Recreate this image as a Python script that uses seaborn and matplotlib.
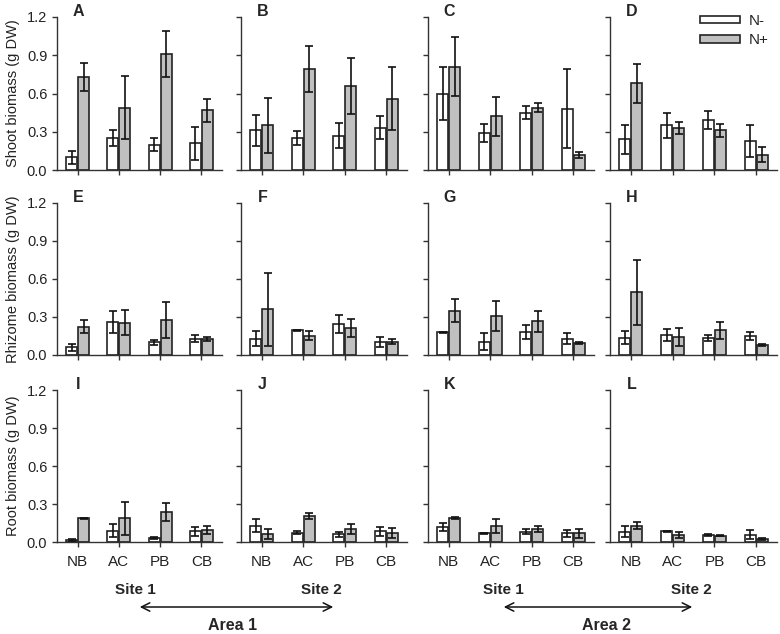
import numpy as np
import pandas as pd
import matplotlib
matplotlib.use('Agg')
from matplotlib import pyplot as plt
import seaborn as sns

species = ['NB', 'AC', 'PB', 'CB']
treatments = ['N-', 'N+']
letters = ['A', 'B', 'C', 'D', 'E', 'F', 'G', 'H', 'I', 'J', 'K', 'L']
ylabels = ['Shoot biomass (g DW)', 'Rhizome biomass (g DW)', 'Root biomass (g DW)']
yticks = [0.0, 0.3, 0.6, 0.9, 1.2]

# one inner list per panel (columns: Area1 Site1, Area1 Site2, Area2 Site1, Area2 Site2)
shoot_minus = [[0.10, 0.25, 0.20, 0.21], [0.31, 0.25, 0.27, 0.33],
               [0.60, 0.29, 0.45, 0.48], [0.24, 0.35, 0.39, 0.23]]
shoot_minus_se = [[0.05, 0.06, 0.05, 0.13], [0.12, 0.055, 0.10, 0.09],
                  [0.21, 0.07, 0.05, 0.31], [0.115, 0.10, 0.07, 0.125]]
shoot_plus = [[0.73, 0.49, 0.91, 0.47], [0.35, 0.79, 0.66, 0.56],
              [0.81, 0.42, 0.49, 0.12], [0.68, 0.33, 0.31, 0.12]]
shoot_plus_se = [[0.11, 0.25, 0.18, 0.09], [0.215, 0.18, 0.22, 0.25],
                 [0.23, 0.15, 0.035, 0.025], [0.155, 0.05, 0.05, 0.06]]

rhizome_minus = [[0.06, 0.26, 0.10, 0.13], [0.13, 0.195, 0.245, 0.105],
                 [0.18, 0.105, 0.18, 0.127], [0.137, 0.158, 0.132, 0.15]]
rhizome_minus_se = [[0.03, 0.09, 0.022, 0.03], [0.057, 0.005, 0.074, 0.04],
                    [0.005, 0.065, 0.055, 0.043], [0.05, 0.05, 0.022, 0.033]]
rhizome_plus = [[0.224, 0.256, 0.277, 0.127], [0.36, 0.153, 0.214, 0.105],
                [0.35, 0.31, 0.266, 0.095], [0.496, 0.14, 0.195, 0.082]]
rhizome_plus_se = [[0.05, 0.10, 0.145, 0.015], [0.29, 0.033, 0.07, 0.02],
                   [0.09, 0.12, 0.085, 0.01], [0.257, 0.07, 0.066, 0.008]]

root_minus = [[0.016, 0.09, 0.03, 0.084], [0.13, 0.074, 0.06, 0.084],
              [0.116, 0.068, 0.082, 0.068], [0.082, 0.084, 0.055, 0.058]]
root_minus_se = [[0.005, 0.05, 0.01, 0.035], [0.05, 0.01, 0.022, 0.033],
                 [0.033, 0.003, 0.02, 0.03], [0.042, 0.003, 0.005, 0.037]]
root_plus = [[0.187, 0.187, 0.237, 0.095], [0.063, 0.208, 0.105, 0.068],
             [0.19, 0.124, 0.105, 0.068], [0.13, 0.055, 0.05, 0.026]]
root_plus_se = [[0.003, 0.13, 0.07, 0.03], [0.04, 0.024, 0.04, 0.04],
                [0.008, 0.055, 0.024, 0.033], [0.024, 0.022, 0.005, 0.008]]

rows = [(shoot_minus, shoot_minus_se, shoot_plus, shoot_plus_se),
        (rhizome_minus, rhizome_minus_se, rhizome_plus, rhizome_plus_se),
        (root_minus, root_minus_se, root_plus, root_plus_se)]

sns.set_style('ticks')
plt.rcParams['font.family'] = ['Liberation Sans', 'DejaVu Sans']
plt.rcParams['axes.edgecolor'] = '#333333'
plt.rcParams['axes.linewidth'] = 1.0

W, H = 780, 634
fig = plt.figure(figsize=(W / 100, H / 100), dpi=100)

col_left = [57, 241, 428, 610]
col_width = [165, 166, 166, 167]
row_top = [17, 203, 390]
row_height = [153, 152, 152]

palette = {'N-': 'white', 'N+': '#c0c0c0'}

for r in range(3):
    m_minus, s_minus, m_plus, s_plus = rows[r]
    for c in range(4):
        ax = fig.add_axes([col_left[c] / W, 1 - (row_top[r] + row_height[r]) / H,
                           col_width[c] / W, row_height[r] / H])
        df = pd.DataFrame({
            'species': species * 2,
            'N': ['N-'] * 4 + ['N+'] * 4,
            'mean': m_minus[c] + m_plus[c],
            'se': s_minus[c] + s_plus[c],
        })
        sns.barplot(data=df, x='species', y='mean', hue='N', order=species,
                    hue_order=treatments, palette=palette, saturation=1,
                    edgecolor='#222222', linewidth=1.2, width=0.58, gap=0.08,
                    errorbar=None, legend=(r == 0 and c == 3), ax=ax)
        for k, t in enumerate(treatments):
            sub = df[df['N'] == t]
            xs = [b.get_x() + b.get_width() / 2 for b in ax.containers[k]]
            ax.errorbar(xs, sub['mean'], yerr=sub['se'], fmt='none',
                        ecolor='#111111', elinewidth=1.2, capsize=3,
                        capthick=1.2, zorder=5)
        ax.set_xlim(-0.5, 3.5)
        ax.set_ylim(0, 1.2)
        ax.set_yticks(yticks)
        ax.set_xlabel('')
        sns.despine(ax=ax)
        ax.tick_params(direction='out', length=3.5, width=1, color='#333333',
                       labelsize=10.5, labelcolor='#222222')
        ax.tick_params(axis='x', labelsize=11, pad=6)
        if c == 0:
            ax.set_yticklabels(['%.1f' % v for v in yticks])
            ax.set_ylabel(ylabels[r], fontsize=10.5, color='#222222')
            ax.yaxis.set_label_coords(-0.225, 0.5)
        else:
            ax.set_yticklabels([])
            ax.set_ylabel('')
        if r < 2:
            ax.set_xticklabels([])
        ax.text(0.13, 1.035, letters[r * 4 + c], transform=ax.transAxes,
                ha='center', va='center', fontsize=11.5, fontweight='bold')
        if r == 0 and c == 3:
            sns.move_legend(ax, 'upper left', bbox_to_anchor=(700 / W, 1 - 14 / H),
                            bbox_transform=fig.transFigure, frameon=False,
                            title=None, fontsize=11, handlelength=2.6,
                            handleheight=0.4, handletextpad=0.6,
                            labelspacing=0.35, borderpad=0, borderaxespad=0)

# site / area annotations under the bottom row
for xs1, xs2, xa, x0, x1 in [(135, 321, 233, 137, 336), (503, 691, 606, 501, 695)]:
    fig.text(xs1 / W, 1 - 590 / H, 'Site 1', ha='center', va='center',
             fontsize=11, fontweight='bold')
    fig.text(xs2 / W, 1 - 590 / H, 'Site 2', ha='center', va='center',
             fontsize=11, fontweight='bold')
    fig.text(xa / W, 1 - 625 / H, 'Area 1' if xa < 400 else 'Area 2',
             ha='center', va='center', fontsize=11.5, fontweight='bold')
    fig.add_artist(matplotlib.patches.FancyArrowPatch(
        (x0 / W, 1 - 607 / H), (x1 / W, 1 - 607 / H), transform=fig.transFigure,
        arrowstyle='<->,head_length=6,head_width=3', color='#111111',
        linewidth=1.1))

fig.savefig('out.png', dpi=100)
